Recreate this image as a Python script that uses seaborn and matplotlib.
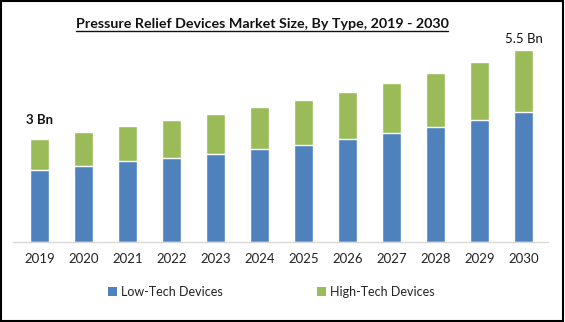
import matplotlib
matplotlib.use("Agg")
import matplotlib.pyplot as plt
import seaborn as sns
import pandas as pd
from matplotlib.patches import Patch, Rectangle
from matplotlib.lines import Line2D

years = ["2019", "2020", "2021", "2022", "2023", "2024", "2025", "2026", "2027", "2028", "2029", "2030"]
low_tech = [2.06, 2.18, 2.32, 2.41, 2.52, 2.66, 2.78, 2.95, 3.12, 3.29, 3.50, 3.72]
high_tech = [0.89, 0.97, 1.00, 1.09, 1.15, 1.20, 1.29, 1.35, 1.43, 1.55, 1.66, 1.78]
series_names = ["Low-Tech Devices", "High-Tech Devices"]
title = "Pressure Relief Devices Market Size, By Type, 2019 - 2030"
first_label = "3 Bn"
last_label = "5.5 Bn"

BLUE = "#4f81bd"
GREEN = "#9bbb59"

sns.set_theme(style="white")
plt.rcParams["font.family"] = ["Lato", "DejaVu Sans"]

df = pd.DataFrame({"year": years, "low": low_tech, "high": high_tech})
df["total"] = df["low"] + df["high"]

fig = plt.figure(figsize=(5.65, 3.22), dpi=100)
ax = fig.add_axes([13 / 565, 0.248, 535 / 565, 0.705])

sns.barplot(data=df, x="year", y="total", color=GREEN, saturation=1, width=0.43, ax=ax)
sns.barplot(data=df, x="year", y="low", color=BLUE, saturation=1, width=0.43, ax=ax)

ax.set_xlim(-0.61, 11.55)
ax.set_ylim(0, 6.5)
ax.set_xlabel("")
ax.set_ylabel("")
ax.set_yticks([])
for s in ["top", "right", "left"]:
    ax.spines[s].set_visible(False)
ax.spines["bottom"].set_color("#d9d9d9")
ax.spines["bottom"].set_linewidth(1.0)
ax.tick_params(axis="x", length=0, pad=8, labelsize=9.5, colors="#222222")

ax.text(0, df["total"].iloc[0] + 0.55, first_label, ha="center", va="center",
        fontsize=9.5, fontweight="bold", color="#111111")
ax.text(len(years) - 1, df["total"].iloc[-1] + 0.32, last_label, ha="center", va="center",
        fontsize=9.5, color="#111111")

t = fig.text(262 / 565, 0.925, title, ha="center", va="center", fontsize=10.3,
             fontweight="bold", color="#111111")

handles = [Patch(facecolor=BLUE, edgecolor="none"), Patch(facecolor=GREEN, edgecolor="none")]
fig.legend(handles, series_names, loc="center", bbox_to_anchor=(0.48, 0.093), ncol=2,
           frameon=False, fontsize=9, handlelength=0.7, handleheight=0.7,
           handletextpad=0.3, columnspacing=7.6, labelcolor="#222222")

# underline title
fig.canvas.draw()
bb = t.get_window_extent(renderer=fig.canvas.get_renderer())
fw, fh = fig.bbox.width, fig.bbox.height
yline = (bb.y0 - 1) / fh
fig.add_artist(Line2D([bb.x0 / fw, bb.x1 / fw], [yline, yline], color="#111111", lw=1.0))

fig.add_artist(Rectangle((0.001, 0.002), 0.996, 0.995, transform=fig.transFigure,
                         fill=False, edgecolor="black", lw=1.5))

fig.savefig("out.png", dpi=100)
